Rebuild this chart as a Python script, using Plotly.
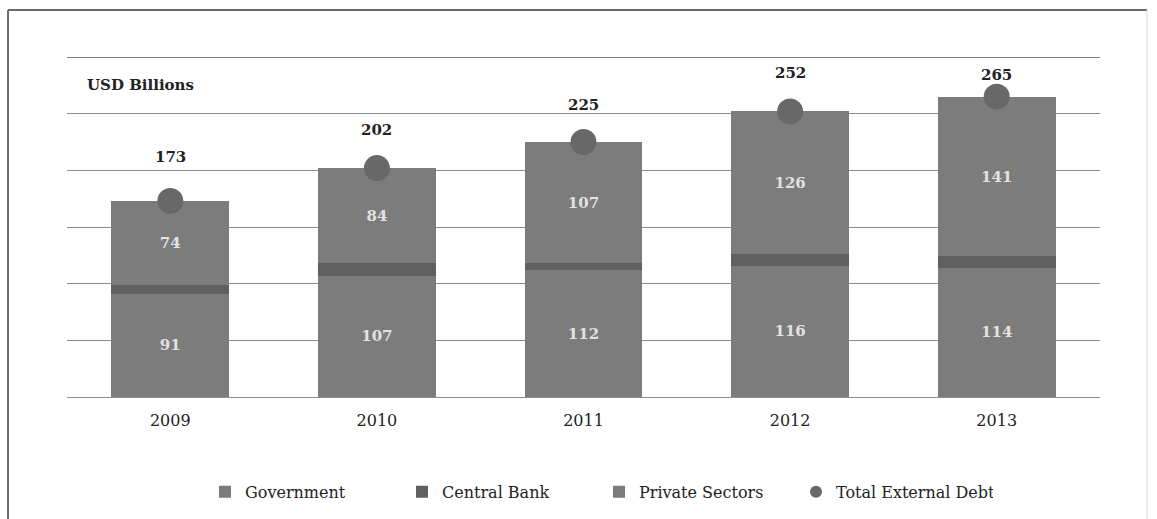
import plotly.graph_objects as go

# External debt composition, USD billions
years = ["2009", "2010", "2011", "2012", "2013"]
government = [91, 107, 112, 116, 114]
central_bank = [8, 11, 6, 10, 10]
private_sectors = [74, 84, 107, 126, 141]
total_debt = [173, 202, 225, 252, 265]

pos = list(range(len(years)))

SERIF = "DejaVu Serif"
inner_font = dict(family=SERIF, size=15, color="#e2e2e2", weight="bold")

fig = go.Figure()
fig.add_trace(go.Bar(
    x=pos, y=government, name="Government",
    marker=dict(color="#7c7c7c", line=dict(width=0)),
    text=government, textposition="inside", insidetextanchor="middle",
    textangle=0, textfont=inner_font,
))
fig.add_trace(go.Bar(
    x=pos, y=central_bank, name="Central Bank",
    marker=dict(color="#606060", line=dict(width=0)),
))
fig.add_trace(go.Bar(
    x=pos, y=private_sectors, name="Private Sectors",
    marker=dict(color="#7c7c7c", line=dict(width=0)),
    text=private_sectors, textposition="inside", insidetextanchor="middle",
    textangle=0, textfont=inner_font,
))
fig.add_trace(go.Scatter(
    x=pos, y=total_debt, name="Total External Debt", mode="markers",
    marker=dict(color="#686868", size=26), cliponaxis=False,
))

# Total labels above each dot
label_lift = [44, 38, 37, 38, 22]
for p, tot, lift in zip(pos, total_debt, label_lift):
    fig.add_annotation(
        x=p, y=tot, text=f"<b>{tot}</b>", showarrow=False, yshift=lift,
        font=dict(family=SERIF, size=15, color="#222222"),
        xanchor="center", yanchor="middle",
    )

fig.add_annotation(
    xref="paper", yref="paper", x=0.017, y=0.918, text="<b>USD Billions</b>",
    showarrow=False, xanchor="left", yanchor="middle",
    font=dict(family=SERIF, size=15, color="#222222"),
)

# Gridline at the top of the value range
fig.add_shape(type="line", xref="paper", yref="y", x0=0, x1=1, y0=299.6, y1=299.6,
              line=dict(color="#808080", width=1.2), layer="below")

# Outer frame (left, top, right)
fig.add_shape(type="line", xref="paper", yref="paper",
              x0=-0.0571, x1=-0.0571, y0=1.138, y1=-0.36,
              line=dict(color="#6a6a6a", width=2))
fig.add_shape(type="line", xref="paper", yref="paper",
              x0=-0.0571, x1=1.0455, y0=1.138, y1=1.138,
              line=dict(color="#6a6a6a", width=2))
fig.add_shape(type="line", xref="paper", yref="paper",
              x0=1.0455, x1=1.0455, y0=1.138, y1=-0.36,
              line=dict(color="#d8d8d8", width=1))

fig.update_layout(
    width=1157, height=519,
    margin=dict(l=67, r=57, t=57, b=121),
    barmode="stack", bargap=0.43,
    paper_bgcolor="white", plot_bgcolor="white",
    font=dict(family=SERIF, color="#222222"),
    showlegend=True,
    legend=dict(
        orientation="h", x=0.515, xanchor="center", y=-0.275, yanchor="middle",
        font=dict(family=SERIF, size=16, color="#222222"),
        itemsizing="constant", traceorder="normal",
        entrywidth=152, itemwidth=30,
    ),
    xaxis=dict(
        range=[-0.5, len(years) - 0.5],
        tickmode="array", tickvals=pos, ticktext=years,
        showgrid=False, showline=False, ticks="", ticklabelstandoff=12,
        tickfont=dict(family=SERIF, size=16, color="#222222"),
    ),
    yaxis=dict(
        range=[0, 300], dtick=50, showticklabels=False,
        showgrid=True, gridcolor="#8c8c8c", gridwidth=1,
        zeroline=True, zerolinecolor="#8c8c8c", zerolinewidth=1,
        showline=False,
    ),
)

fig.write_html("out.html")
